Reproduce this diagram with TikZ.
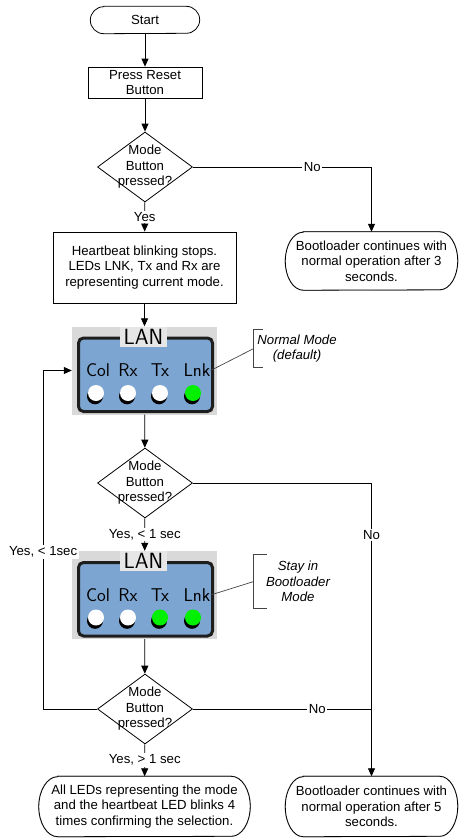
\documentclass[tikz,border=0pt]{standalone}
\usepackage{fontspec}
\setmainfont{Liberation Sans}
\usetikzlibrary{shapes.geometric,arrows.meta,calc}
\definecolor{panelblue}{HTML}{7DA5D1}
\definecolor{panelgray}{HTML}{D9D9D9}
\definecolor{labelgray}{HTML}{E6E6E6}
\definecolor{ledgreen}{HTML}{00F000}
\definecolor{darkframe}{HTML}{1E1E1E}
\definecolor{notegray}{HTML}{444444}
\definecolor{shadowgray}{HTML}{9A9A9A}

\newcommand{\termpath}[3]{%
  ([xshift=#2pt]#1.north west) -- ([xshift=-#2pt]#1.north east)
    arc[start angle=90,end angle=-90,x radius=#2,y radius=#3]
    -- ([xshift=#2pt]#1.south west)
    arc[start angle=270,end angle=90,x radius=#2,y radius=#3] -- cycle}
\newcommand{\termline}[3]{%
  \draw[shadowgray, line width=1.2pt, shift={(1pt,-1.2pt)}] \termpath{#1}{#2}{#3};
  \draw[ln, fill=white] \termpath{#1}{#2}{#3};
  \node[txt] at (#1.center) {\csname termtext#1\endcsname};}

\newcommand{\lanpanel}[4]{%
  \node[panelbg] (#1) at #2 {};
  \begin{scope}[shift={(#1.center)}]
    \draw[frame] (-66,32.5) rectangle (68,-41);
    \node[lantitle] (#1-title) at (-1,34) {LAN};
    \node[lanlabel] (#1-col) at (-46.5,0) {Col};
    \node[lanlabel] (#1-rx) at (-16.5,0) {Rx};
    \node[lanlabel] (#1-tx) at (15.5,0) {Tx};
    \node[lanlabel] (#1-lnk) at (52.5,0) {Lnk};
    \foreach \xx/\cc in {-48.5/white,-16.5/white,15.5/#3,48.5/#4}{%
      \fill[black] (\xx-1,-25.8) circle (8);
      \fill[\cc] (\xx,-22.5) circle (8);}
  \end{scope}}

\begin{document}
\begin{tikzpicture}[x=1pt,y=1pt,
  txt/.style={font=\fontsize{13.2}{15.5}\selectfont, align=center, inner sep=0pt},
  ln/.style={draw=black, line width=0.8pt},
  arr/.style={ln, -{Triangle[length=8pt,width=7pt]}},
  boxnode/.style={txt, draw=black, line width=0.8pt, minimum width=#1},
  termnode/.style={txt},
  dia/.style={draw=black, line width=0.8pt, shape=diamond, minimum width=95pt, minimum height=70pt, inner sep=0pt},
  lbl/.style={txt, fill=white, inner sep=1.5pt},
  panelbg/.style={fill=panelgray, minimum width=145pt, minimum height=88pt, inner sep=0pt},
  frame/.style={draw=darkframe, line width=3pt, fill=panelblue, rounded corners=5pt},
  lantitle/.style={fill=labelgray, minimum width=47pt, minimum height=20pt, inner sep=0pt, font=\sffamily\fontsize{22}{22}\selectfont},
  lanlabel/.style={inner sep=0pt, font=\sffamily\fontsize{18.5}{18.5}\selectfont},
  note/.style={txt, font=\itshape\fontsize{13.2}{15.5}\selectfont},
  bracket/.style={draw=notegray, line width=0.7pt}
]
\useasboundingbox (0,0) rectangle (458,-838);

% terminators and boxes (terminator nodes are placeholders; their outline and text are drawn by \termline)
\node[termnode, minimum width=109pt, minimum height=27pt] (start) at (145,-20) {\phantom{Start}};
\draw[ln] \termpath{start}{13.5}{13.5};
\node[txt] (startt) at (start.center) {Start};
\node[boxnode=114pt, minimum height=31pt] (reset) at (145,-82.5) {Press Reset\\Button};
\node[dia] (d1) at (145,-167) {};
\node[txt] (d1t) at (d1.center) {Mode\\Button\\pressed?};

\node[termnode, minimum width=172pt, minimum height=58pt] (boot3) at (371.5,-261) {};
\draw[shadowgray, line width=1.2pt, shift={(1pt,-1.2pt)}] \termpath{boot3}{18}{29};
\draw[ln, fill=white] \termpath{boot3}{18}{29};
\node[txt] (boot3t) at (boot3.center) {Bootloader continues with\\normal operation after 3\\seconds.};

\node[boxnode=183pt, minimum height=71pt] (heart) at (144.5,-267.5) {Heartbeat blinking stops.\\LEDs LNK, Tx and Rx are\\representing current mode.};

\lanpanel{lan1}{(144.5,-370.5)}{white}{ledgreen}
\node[note, minimum width=86pt, minimum height=37pt] (note1) at (297,-348.5) {Normal Mode\\(default)};
\draw[bracket] ([xshift=9pt]note1.north west) -- (note1.north west) -- (note1.south west) -- ([xshift=9pt]note1.south west);
\draw[bracket] (lan1-lnk.east) -- (note1.west);

\node[dia] (d2) at (145,-483) {};
\node[txt] (d2t) at (d2.center) {Mode\\Button\\pressed?};

\lanpanel{lan2}{(144.5,-595)}{ledgreen}{ledgreen}
\node[note, minimum width=88pt, minimum height=53pt] (note2) at (298,-581.5) {Stay in\\Bootloader\\Mode};
\draw[bracket] ([xshift=13pt]note2.north west) -- (note2.north west) -- (note2.south west) -- ([xshift=13pt]note2.south west);
\draw[bracket] (lan2-lnk.east) -- (note2.west);

\node[dia] (d3) at (145,-709) {};
\node[txt] (d3t) at (d3.center) {Mode\\Button\\pressed?};

\node[termnode, minimum width=211pt, minimum height=60pt] (endL) at (144.5,-806.5) {};
\draw[shadowgray, line width=1.2pt, shift={(1pt,-1.2pt)}] \termpath{endL}{19}{30};
\draw[ln, fill=white] \termpath{endL}{19}{30};
\node[txt] (endLt) at (endL.center) {All LEDs representing the mode\\and the heartbeat LED blinks 4\\times confirming the selection.};

\node[termnode, minimum width=172pt, minimum height=60pt] (boot5) at (371.5,-806.5) {};
\draw[shadowgray, line width=1.2pt, shift={(1pt,-1.2pt)}] \termpath{boot5}{18}{30};
\draw[ln, fill=white] \termpath{boot5}{18}{30};
\node[txt] (boot5t) at (boot5.center) {Bootloader continues with\\normal operation after 5\\seconds.};

\coordinate (loopA) at ([xshift=-54pt]d3.west);
\coordinate (loopB) at (loopA |- lan1.west);

% connectors
\draw[arr] (start) -- (reset);
\draw[arr] (reset) -- (d1);
\draw[arr] (d1) -- node[lbl]{Yes} (heart);
\draw[arr] (d1.east) -- node[lbl,pos=0.668]{No} (d1.east -| boot3.north) -- (boot3.north);
\draw[arr] (heart) -- (lan1);
\draw[arr] (lan1) -- (d2);
\draw[arr] (d2) -- node[lbl]{Yes, < 1 sec} (lan2);
\draw[arr] (d2.east) -- (d2.east -| boot5.north) -- node[lbl,pos=0.177]{No} (boot5.north);
\draw[arr] (lan2) -- (d3);
\draw[ln] (d3.east) -- node[lbl,pos=0.696]{No} (d3.east -| boot5.north);
\draw[arr] (d3.west) -- (loopA) -- node[lbl,pos=0.463]{Yes, < 1sec} (loopB) -- (lan1.west);
\draw[arr] (d3) -- node[lbl]{Yes, > 1 sec} (endL);
\end{tikzpicture}
\end{document}
